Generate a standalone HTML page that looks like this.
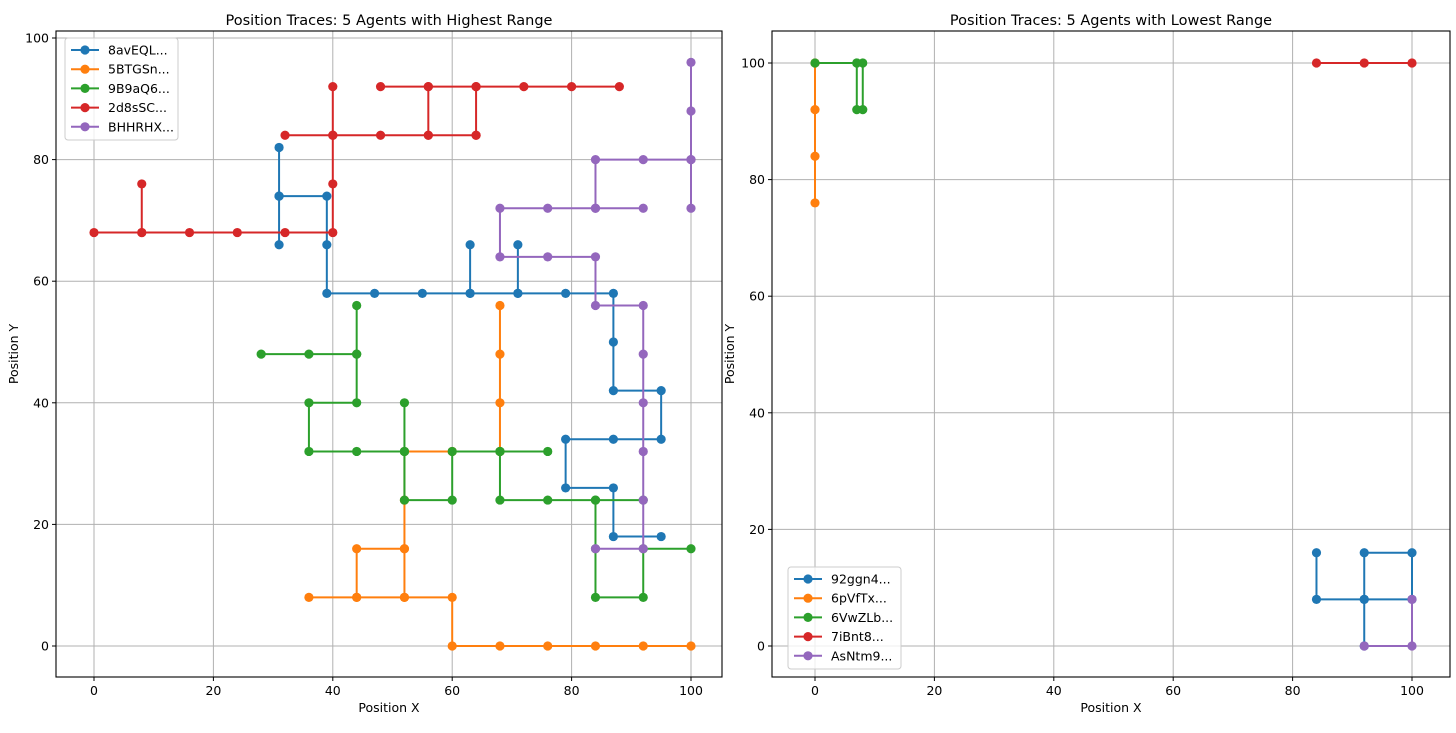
<!DOCTYPE html>
<html><head><meta charset="utf-8"><style>
body{margin:0;background:#fff;font-family:"Liberation Sans","DejaVu Sans",sans-serif}
svg text{font-family:"DejaVu Sans","Liberation Sans",sans-serif}
</style></head><body>
<svg id="c" width="1456" height="728" xmlns="http://www.w3.org/2000/svg"></svg>
<script>
const colors=['#1f77b4','#ff7f0e','#2ca02c','#d62728','#9467bd'];
const leftNames=['8avEQL...','5BTGSn...','9B9aQ6...','2d8sSC...','BHHRHX...'];
const rightNames=['92ggn4...','6pVfTx...','6VwZLb...','7iBnt8...','AsNtm9...'];
const leftSeries=[
 [[31,66],[31,74],[31,82],[31,74],[39,74],[39,66],[39,58],[47,58],[55,58],[63,58],[63,66],[63,58],[71,58],[71,66],[71,58],[79,58],[87,58],[87,50],[87,42],[95,42],[95,34],[87,34],[79,34],[79,26],[87,26],[87,18],[95,18]],
 [[68,56],[68,48],[68,40],[68,32],[60,32],[52,32],[52,24],[52,16],[44,16],[44,8],[36,8],[44,8],[52,8],[52,16],[52,8],[60,8],[60,0],[68,0],[76,0],[84,0],[92,0],[100,0]],
 [[28,48],[36,48],[44,48],[44,56],[44,48],[44,40],[36,40],[36,32],[44,32],[52,32],[52,40],[52,32],[52,24],[60,24],[60,32],[68,32],[76,32],[68,32],[68,24],[76,24],[84,24],[92,24],[84,24],[84,16],[84,8],[92,8],[92,16],[100,16]],
 [[0,68],[8,68],[8,76],[8,68],[16,68],[24,68],[32,68],[40,68],[40,76],[40,84],[40,92],[40,84],[32,84],[40,84],[48,84],[56,84],[56,92],[48,92],[56,92],[64,92],[64,84],[56,84],[64,84],[64,92],[72,92],[80,92],[88,92]],
 [[100,96],[100,88],[100,80],[100,72],[100,80],[92,80],[84,80],[84,72],[92,72],[84,72],[76,72],[68,72],[68,64],[76,64],[84,64],[84,56],[92,56],[92,48],[92,40],[92,32],[92,24],[92,16],[84,16]]
];
const rightSeries=[
 [[84,16],[84,8],[92,8],[92,16],[100,16],[100,8],[92,8],[92,0]],
 [[0,76],[0,84],[0,92],[0,100]],
 [[0,100],[7,100],[7,92],[8,92],[8,100],[7,100]],
 [[84,100],[92,100],[100,100]],
 [[92,0],[100,0],[100,8]]
];
const xTicks=[0,20,40,60,80,100];
const leftYTicks=[0,20,40,60,80,100];
const rightYTicks=[0,20,40,60,80,100];
const NS='http://www.w3.org/2000/svg';
const svg=document.getElementById('c');
function mk(tag,attrs,parent){const e=document.createElementNS(NS,tag);for(const k in attrs)e.setAttribute(k,attrs[k]);(parent||svg).appendChild(e);return e;}
function panel(cfg){
 const g=mk('g',{});
 
 
 const sx=v=>cfg.x0+(v-0)*(cfg.x100-cfg.x0)/100;
 const sy=v=>cfg.y0+(v-0)*(cfg.y100-cfg.y0)/100;
 xTicks.forEach(t=>{const l=mk('line',{x1:sx(t),x2:sx(t),y1:cfg.T,y2:cfg.B,stroke:'#b0b0b0','stroke-width':1},g);
  });
 cfg.yt.forEach(t=>{const l=mk('line',{x1:cfg.L,x2:cfg.R,y1:sy(t),y2:sy(t),stroke:'#b0b0b0','stroke-width':1},g);
  });
 cfg.series.forEach((pts,i)=>{
  const s=mk('g',{},g);
  
  
  mk('polyline',{points:pts.map(p=>sx(p[0])+','+sy(p[1])).join(' '),fill:'none',stroke:colors[i],'stroke-width':2,'stroke-linejoin':'round'},s);
  pts.forEach(p=>{const c=mk('circle',{cx:sx(p[0]),cy:sy(p[1]),r:4.6,fill:colors[i]},s);
   });
 });
 const fr=mk('rect',{x:cfg.L,y:cfg.T,width:cfg.R-cfg.L,height:cfg.B-cfg.T,fill:'none',stroke:'#000','stroke-width':1.1},g);
 
 xTicks.forEach(t=>{mk('line',{x1:sx(t),x2:sx(t),y1:cfg.B,y2:cfg.B+4,stroke:'#000'},g);
  const tx=mk('text',{x:sx(t),y:cfg.B+18,'font-size':12.5,'text-anchor':'middle'},g);tx.textContent=t;
  });
 cfg.yt.forEach(t=>{mk('line',{x1:cfg.L-4,x2:cfg.L,y1:sy(t),y2:sy(t),stroke:'#000'},g);
  const tx=mk('text',{x:cfg.L-7,y:sy(t)+4.5,'font-size':12.5,'text-anchor':'end'},g);tx.textContent=t;
  });
 const ti=mk('text',{x:(cfg.L+cfg.R)/2,y:cfg.T-6,'font-size':14.5,'text-anchor':'middle'},g);ti.textContent=cfg.title;
 
 const xl=mk('text',{x:(cfg.L+cfg.R)/2,y:cfg.B+35,'font-size':12.5,'text-anchor':'middle'},g);xl.textContent='Position X';
 
 const yl=mk('text',{x:0,y:0,'font-size':12.5,'text-anchor':'middle',transform:'translate('+(cfg.L-38)+','+((cfg.T+cfg.B)/2)+') rotate(-90)'},g);yl.textContent='Position Y';
 
 const lg=mk('g',{},g);
 
 mk('rect',{x:cfg.lx,y:cfg.ly,width:113,height:102,rx:3,fill:'#fff','fill-opacity':0.8,stroke:'#ccc'},lg);
 cfg.names.forEach((n,i)=>{const y=cfg.ly+12+i*19.2;
  const e=mk('g',{},lg);
  mk('line',{x1:cfg.lx+6,x2:cfg.lx+34,y1:y,y2:y,stroke:colors[i],'stroke-width':2},e);
  mk('circle',{cx:cfg.lx+20,cy:y,r:4.6,fill:colors[i]},e);
  const t=mk('text',{x:cfg.lx+43,y:y+4.5,'font-size':12.5},e);t.textContent=n;});
}
panel({key:'left',L:56,R:722,T:31,B:677,x0:94,x100:691,y0:646,y100:38,yt:leftYTicks,series:leftSeries,names:leftNames,
 title:'Position Traces: 5 Agents with Highest Range',lx:65,ly:38});
panel({key:'right',L:772,R:1450,T:31,B:677,x0:815,x100:1412,y0:646,y100:63,yt:rightYTicks,series:rightSeries,names:rightNames,
 title:'Position Traces: 5 Agents with Lowest Range',lx:788,ly:567});
</script>
</body></html>
